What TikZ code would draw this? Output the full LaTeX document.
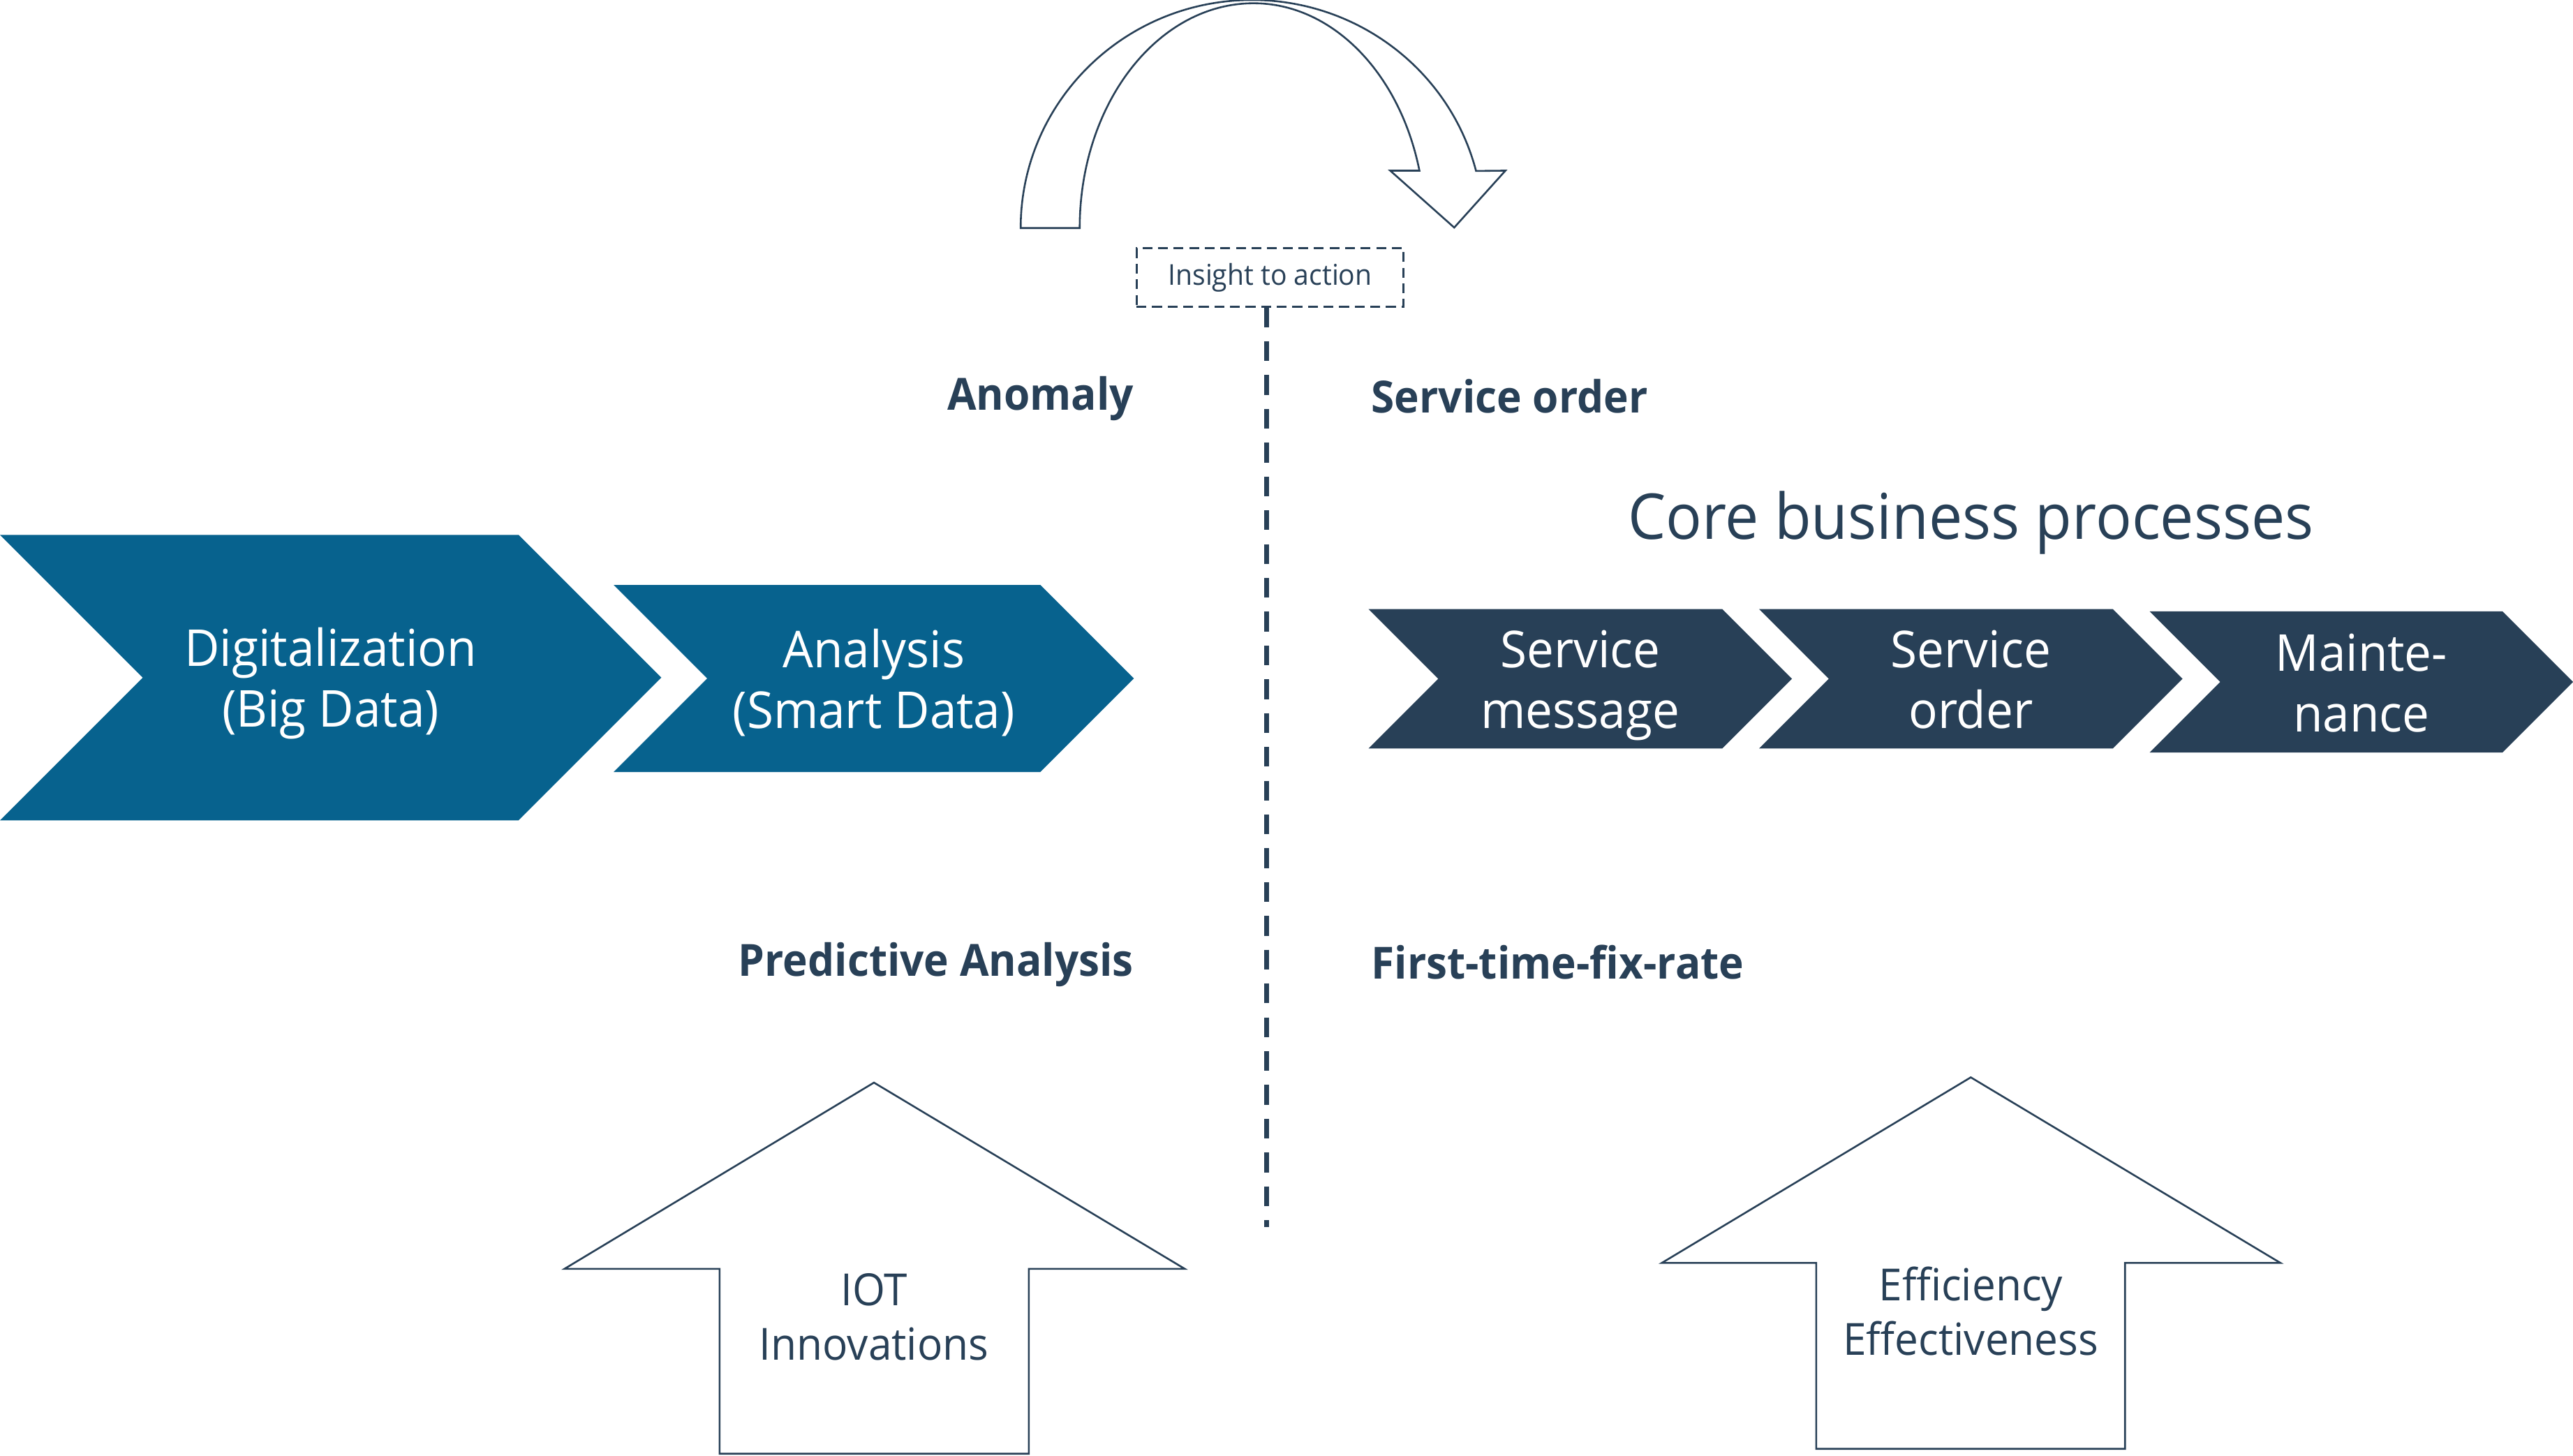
\documentclass[tikz,border=0pt]{standalone}
\usepackage{fontspec}
\setmainfont{Open Sans}[FakeStretch=0.95]
\usetikzlibrary{shapes.symbols, positioning}
\definecolor{chevblue}{RGB}{7,98,142}
\definecolor{navy}{RGB}{40,64,87}

\begin{document}
\begin{tikzpicture}[
        x=1pt, y=1pt,
        every node/.style={text=navy},
        chevron/.style={signal, signal from=west, signal to=east, signal pointer angle=90, fill=chevblue, draw=none, inner sep=0pt, text=white, align=center, text height=64pt, text depth=3.5pt, font=\fontsize{31}{37}\selectfont},
        darkchev/.style={chevron, fill=navy},
        tag/.style={inner sep=0pt, font=\fontsize{27}{32}\bfseries\selectfont},
        uparrow/.style={draw=navy, line width=1.1pt, fill=white, line join=miter},
        arrowtext/.style={align=center, inner sep=0pt, font=\fontsize{27}{33}\selectfont}
    ]
    \useasboundingbox (0,0) rectangle (1568,887);

    % curved arrow on top
    \draw[uparrow] (622,748) arc[start angle=180, end angle=14.5, x radius=141, y radius=139]
        -- (917.4,783) -- (886.2,748.3) -- (847.2,783) -- (865,783)
        arc[start angle=14.8, end angle=90, x radius=104.5, y radius=137]
        arc[start angle=90, end angle=180, x radius=106, y radius=137] -- cycle;

    \node[draw=navy, line width=1.2pt, dash pattern=on 6pt off 3.5pt, minimum width=162.8pt, minimum height=35.5pt, inner sep=0pt, font=\fontsize{17.5}{20}\selectfont] (insight) at (774,717.9) {Insight to action};
    \coordinate (lineend) at (771.7,139);
    \draw[navy, line width=3pt, dash pattern=on 12pt off 8.6pt] (insight.south -| lineend) -- (lineend);

    % chevrons
    \node[chevron, minimum width=403pt, minimum height=174pt] (digital) at (201.5,474) {Digitalization\\(Big Data)};
    \node[chevron, minimum width=317pt, minimum height=114pt] (analysis) at (532.5,473.5) {Analysis\\(Smart Data)};
    \node[darkchev, minimum width=258pt, minimum height=85pt] (message) at (963,473.3) {Service\\message};
    \node[darkchev, minimum width=258pt, minimum height=85pt] (order) at (1201,473.3) {Service\\order};
    \node[darkchev, minimum width=258pt, minimum height=86pt] (maint) at (1439,471.4) {Mainte-\\nance};

    \node[anchor=base, inner sep=0pt, font=\fontsize{38.5}{46}\selectfont] (core) at (1201,558.3) {Core business processes};

    % labels
    \node[tag, anchor=base east] (anomaly) at (691,637) {Anomaly};
    \node[tag, anchor=base west] (svcorder) at (835.5,635.3) {Service order};
    \node[tag, anchor=base east] (predict) at (691,292) {Predictive Analysis};
    \node[tag, anchor=base west] (ftfr) at (835.5,290.3) {First-time-fix-rate};

    % up arrows
    \draw[uparrow] (438.5,1) -- (438.5,113.7) -- (344,113.7) -- (532.6,227.2) -- (722,113.7) -- (627,113.7) -- (627,1) -- cycle;
    \node[arrowtext] (iot) at (532.6,84.4) {IOT\\Innovations};
    \draw[uparrow] (1106.8,4) -- (1106.8,117.3) -- (1012.7,117.3) -- (1201,230.4) -- (1389.7,117.3) -- (1295,117.3) -- (1295,4) -- cycle;
    \node[arrowtext] (effic) at (1201,88) {Efficiency\\Effectiveness};
\end{tikzpicture}
\end{document}
